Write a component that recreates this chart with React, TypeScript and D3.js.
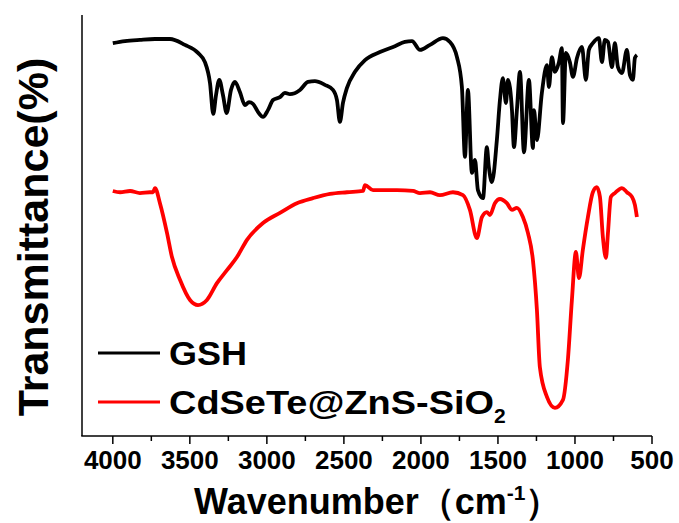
import React from "react";
import * as d3 from "d3";

// GSH spectrum: wavenumber (cm-1) and transmittance (arb. units)
const gshWave = [
  4000, 3921, 3824, 3726, 3629, 3532, 3447, 3402, 3369, 3348, 3330, 3309, 3285, 3261, 3233, 3207, 3175, 3142,
  3116, 3090, 3058, 3025, 2993, 2960, 2915, 2883, 2850, 2785, 2733, 2688, 2623, 2571, 2545, 2526, 2506, 2480,
  2428, 2363, 2266, 2169, 2104, 2058, 2006, 1941, 1857, 1812, 1766, 1734, 1714, 1695, 1669, 1649, 1630, 1597,
  1572, 1559, 1539, 1507, 1487, 1468, 1448, 1435, 1409, 1396, 1377, 1357, 1331, 1299, 1273, 1266, 1247, 1215,
  1182, 1169, 1150, 1130, 1104, 1085, 1078, 1059, 1033, 1013, 987, 955, 929, 910, 884, 845, 825, 806, 786, 760,
  741, 721, 695, 663, 643, 624, 611, 598,
];
const gshT = [
  93.3, 93.8, 94.1, 94.3, 94.3, 92.9, 91.0, 88.8, 83.8, 76.5, 81.0, 84.6, 81.0, 76.7, 82.2, 84.1, 81.7, 78.6,
  79.3, 78.9, 77.0, 75.8, 77.4, 79.8, 80.5, 81.5, 81.2, 82.2, 84.1, 84.3, 83.4, 82.2, 79.8, 74.6, 79.1, 82.7,
  86.5, 89.3, 91.2, 92.6, 93.6, 93.8, 91.7, 92.9, 94.5, 93.6, 90.0, 82.9, 66.3, 82.2, 62.5, 65.6, 58.4, 56.5,
  68.6, 63.9, 60.3, 70.3, 79.8, 85.0, 79.1, 84.6, 77.4, 68.6, 77.4, 86.5, 67.4, 84.6, 68.4, 77.4, 70.3, 81.5,
  88.1, 82.9, 90.0, 86.5, 88.8, 92.1, 74.3, 91.0, 88.8, 85.3, 89.8, 92.4, 84.6, 91.7, 93.3, 94.5, 88.8, 94.1,
  93.6, 87.6, 93.3, 87.6, 86.2, 91.7, 85.7, 84.6, 89.8, 90.5,
];

// CdSeTe@ZnS-SiO2 spectrum
const qdWave = [
  4000, 3953, 3888, 3824, 3759, 3739, 3726, 3694, 3648, 3616, 3564, 3499, 3447, 3389, 3324, 3259, 3194, 3129,
  3025, 2915, 2805, 2701, 2590, 2480, 2376, 2363, 2311, 2156, 2052, 2006, 1941, 1877, 1792, 1727, 1682, 1637,
  1604, 1572, 1552, 1520, 1487, 1442, 1409, 1377, 1338, 1305, 1273, 1247, 1228, 1182, 1130, 1078, 1046, 1020,
  994, 974, 949, 916, 884, 858, 838, 819, 799, 786, 767, 741, 695, 663, 630, 611, 598,
];
const qdT = [
  58.2, 57.9, 58.2, 57.7, 57.9, 57.9, 58.9, 55.3, 48.2, 42.5, 37.1, 32.3, 31.1, 32.3, 36.3, 39.4, 42.5, 46.6,
  50.6, 53.0, 55.3, 56.5, 57.5, 57.9, 58.2, 59.6, 58.4, 58.4, 58.2, 57.7, 57.9, 57.2, 57.9, 57.2, 53.7, 47.0,
  52.0, 53.2, 52.5, 55.3, 56.3, 55.3, 53.7, 54.2, 52.0, 48.2, 41.8, 29.9, 16.4, 9.3, 6.7, 8.6, 18.1, 32.3,
  43.7, 37.5, 44.2, 52.0, 57.9, 59.1, 56.8, 47.3, 42.3, 48.2, 56.8, 57.7, 58.9, 57.9, 56.8, 54.9, 52.0,
];

const xTicks = [4000, 3500, 3000, 2500, 2000, 1500, 1000, 500];
const minorTicks = [3750, 3250, 2750, 2250, 1750, 1250, 750];
const legendNames = ["GSH", "CdSeTe@ZnS-SiO"];

const W = 679;
const H = 523;
const font = "Arial, 'Liberation Sans', sans-serif";

export default function App() {
  const left = 82;
  const right = 652;
  const top = 15;
  const bottom = 436;

  const x = d3.scaleLinear().domain([4200, 500]).range([left, right]);
  const y = d3.scaleLinear().domain([0, 100]).range([bottom, top]);

  const line = d3
    .line<[number, number]>()
    .x((d) => x(d[0]))
    .y((d) => y(d[1]))
    .curve(d3.curveMonotoneX);

  const gshPath = line(gshWave.map((w, i) => [w, gshT[i]] as [number, number])) || "";
  const qdPath = line(qdWave.map((w, i) => [w, qdT[i]] as [number, number])) || "";

  return (
    <svg width={W} height={H} style={{ position: "absolute", left: 0, top: 0, background: "#fff" }}>
      <path d={gshPath} fill="none" stroke="#000" strokeWidth={3.8} strokeLinejoin="round" />
      <path d={qdPath} fill="none" stroke="#ff0000" strokeWidth={3.8} strokeLinejoin="round" />

      {/* axes */}
      <line x1={left} x2={left} y1={top} y2={bottom} stroke="#000" strokeWidth={1.5} />
      <line x1={left - 0.75} x2={right} y1={bottom} y2={bottom} stroke="#000" strokeWidth={1.5} />
      {xTicks.map((t) => (
        <g key={t}>
          <line x1={x(t)} x2={x(t)} y1={bottom} y2={bottom + 8} stroke="#000" strokeWidth={1.5} />
          <text x={x(t)} y={469} textAnchor="middle" fontFamily={font} fontWeight="bold" fontSize={26}>
            {t}
          </text>
        </g>
      ))}
      {minorTicks.map((t) => (
        <line key={t} x1={x(t)} x2={x(t)} y1={bottom} y2={bottom + 5} stroke="#000" strokeWidth={1.5} />
      ))}

      {/* axis titles */}
      <text x={194} y={514} fontFamily={font} fontWeight="bold" fontSize={36}>
        <tspan>Wavenumber</tspan>
        <tspan>（</tspan>
        <tspan>cm</tspan>
        <tspan dy={-14} fontSize={21}>-1</tspan>
        <tspan dy={14}>）</tspan>
      </text>
      <text
        transform="translate(48,237) rotate(-90)"
        textAnchor="middle"
        fontFamily={font}
        fontWeight="bold"
        fontSize={43}
      >
        Transmittance(%)
      </text>

      {/* legend */}
      <line x1={98} x2={160} y1={353} y2={353} stroke="#000" strokeWidth={3.2} />
      <text x={169} y={365} fontFamily={font} fontWeight="bold" fontSize={33} textLength={78} lengthAdjust="spacingAndGlyphs">
        {legendNames[0]}
      </text>
      <line x1={98} x2={160} y1={402} y2={402} stroke="#ff0000" strokeWidth={3.2} />
      <text x={169} y={414} fontFamily={font} fontWeight="bold" fontSize={33}>
        <tspan textLength={325} lengthAdjust="spacingAndGlyphs">{legendNames[1]}</tspan>
        <tspan dy={9} fontSize={21}>2</tspan>
      </text>
    </svg>
  );
}
